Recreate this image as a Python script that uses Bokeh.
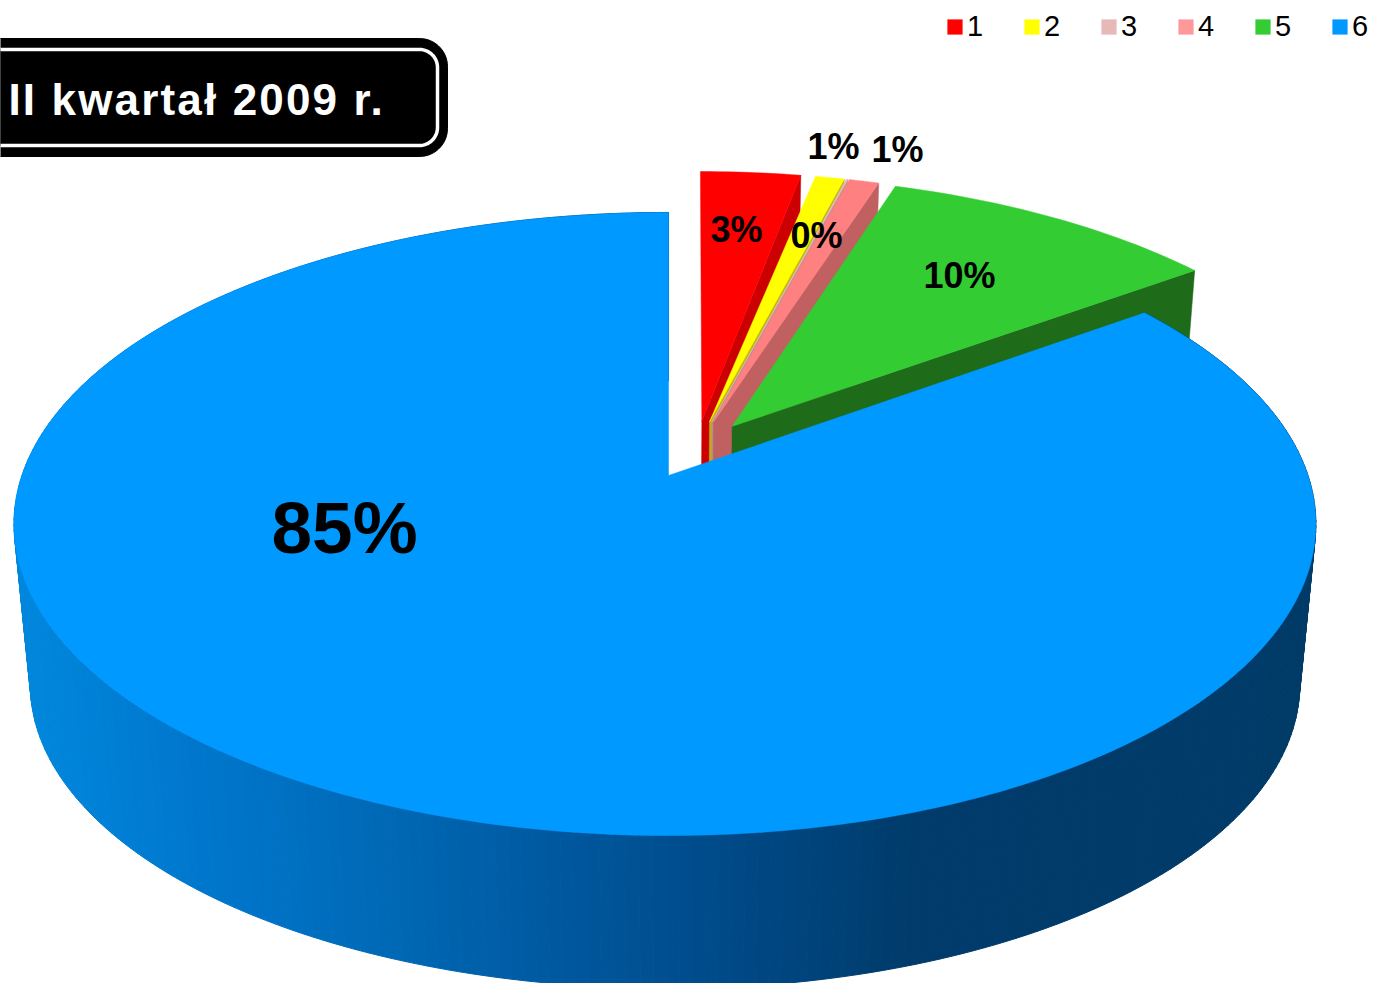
import math
import numpy as np
from bokeh.core.properties import value
from bokeh.embed import file_html
from bokeh.layouts import column
from bokeh.models import ColumnDataSource, Legend, LegendItem, Range1d
from bokeh.plotting import figure
from bokeh.resources import INLINE

categories = ["1", "2", "3", "4", "5", "6"]
shares = [2.95, 1.12, 0.05, 0.88, 10.0, 85.0]
title_text = "II kwartał 2009 r."

top_colors = ["#FF0000", "#FFFF00", "#E6B8B8", "#FF8080", "#33CC33", "#0099FF"]
side_colors = ["#CC0000", "#BDB400", "#B89090", "#C06060", "#1E6B1A", "#0099FF"]
legend_colors = ["#FF0000", "#FFFF00", "#E6B8B8", "#FF9999", "#33CC33", "#0099FF"]
label_pos = [(736, 229), (833, 146), (816, 235), (897, 149), (959, 275), (344, 527)]
label_size = ["36px", "36px", "36px", "36px", "36px", "73px"]
# drawing adjustments (degrees trimmed at wedge start, outward shift of each rim)
start_trim = [0, 0.95, 0, 0, 0, 0.3]
rim_shift = [0.0055, 0.0037, 0.0037, 0.0037, 0.0037, 0]

W, H = 1373, 983
X0, Y0, A, B, K, D, SHRINK = 668, 475, 643, 304, 0.1557, 162, 0.025
EXPLODE, CU, CV = 0.0975, 0.0443, 0.0869
BIG_RIM_SHIFT = -0.0055


def proj(u, v, z=0.0):
    w = 1 + K * v
    s = 1 - SHRINK * z
    return X0 + s * A * u / w, Y0 + D * z - s * B * v / w


def arc(a0, a1):
    return np.radians(np.linspace(a0, a1, max(2, int(math.ceil(a1 - a0)) + 1)))


cum = np.concatenate([[0], np.cumsum(shares)])
cum = cum / cum[-1] * 360

p = figure(width=W, height=H, x_range=Range1d(0, W), y_range=Range1d(H, 0),
           output_backend="svg", toolbar_location=None, min_border=0,
           x_axis_location=None, y_axis_location=None, margin=0)
p.grid.visible = False
p.outline_line_color = None
p.border_fill_color = None

# wedges other than the big one, back to front
for i in range(5):
    a0, a1 = cum[i], cum[i + 1]
    mid = math.radians((a0 + a1) / 2)
    cu, cv = CU + EXPLODE * math.sin(mid), CV + EXPLODE * math.cos(mid)
    end = math.radians(a1)
    ou, ov = cu + math.sin(end) + rim_shift[i], cv + math.cos(end)
    fx = [proj(ou, ov, 0)[0], proj(cu, cv, 0)[0], proj(cu, cv, 1)[0], proj(ou, ov, 1)[0]]
    fy = [proj(ou, ov, 0)[1], proj(cu, cv, 0)[1], proj(cu, cv, 1)[1], proj(ou, ov, 1)[1]]
    p.patch(fx, fy, fill_color=side_colors[i], line_color=side_colors[i], line_width=0.5)
    t = arc(a0 + start_trim[i], a1)
    tx, ty = proj(cu + np.sin(t) + rim_shift[i], cv + np.cos(t))
    p.patch([proj(cu, cv)[0], *tx], [proj(cu, cv)[1], *ty],
            fill_color=top_colors[i], line_color=top_colors[i], line_width=0.5)

# big wedge: wall then top
a0, a1 = cum[5], cum[6]
mid = math.radians((a0 + a1) / 2)
cu, cv = CU + EXPLODE * math.sin(mid), CV + EXPLODE * math.cos(mid)
t = arc(a0 + start_trim[5], a1)
ux, vy = cu + np.sin(t) + BIG_RIM_SHIFT * np.abs(np.sin(t)), cv + np.cos(t)
x_top, y_top = proj(ux, vy, 0)
x_bot, y_bot = proj(ux, vy, 1)
stops_x = [30, 200, 400, 600, 800, 900, 1373]
stops_rgb = [(0, 136, 221), (0, 120, 206), (0, 104, 181), (0, 85, 154), (0, 68, 125), (0, 60, 108), (0, 59, 104)]
xs, ys, cols = [], [], []
for j in range(len(t) - 1):
    xs.append([x_top[j], x_top[j + 1], x_bot[j + 1], x_bot[j]])
    ys.append([y_top[j], y_top[j + 1], y_bot[j + 1], y_bot[j]])
    xm = (x_bot[j] + x_bot[j + 1]) / 2
    c = [int(np.interp(xm, stops_x, [s[k] for s in stops_rgb])) for k in range(3)]
    cols.append("#%02X%02X%02X" % tuple(c))
wall = ColumnDataSource(dict(xs=xs, ys=ys, c=cols))
p.patches("xs", "ys", source=wall, fill_color="c", line_color="c", line_width=1)
p.patch([proj(cu, cv)[0], *x_top], [proj(cu, cv)[1], *y_top],
        fill_color=top_colors[5], line_color=top_colors[5], line_width=0.5)

# percentage labels
for v, (lx, ly), sz in zip(shares, label_pos, label_size):
    p.text([lx], [ly], text=[f"{round(v)}%"], text_align="center", text_baseline="middle",
           text_font=value("Liberation Sans"), text_font_style="bold", text_font_size=sz,
           text_color="#000000")

# legend
items = []
for c, col in zip(categories, legend_colors):
    r = p.quad(left=[float("nan")], right=[float("nan")], top=[float("nan")], bottom=[float("nan")],
               fill_color=col, line_color=None)
    items.append(LegendItem(label=c, renderers=[r]))
legend = Legend(items=items, orientation="horizontal", location=(945, H - 43), margin=0, padding=0,
                spacing=36, glyph_width=19, glyph_height=19, label_standoff=3, label_width=19,
                label_text_font="Liberation Sans", label_text_font_size="29px",
                label_text_color="#000000", border_line_color=None, background_fill_alpha=0)
p.add_layout(legend)


def rounded(x0, y0, x1, y1, r):
    px, py = [], []
    for cx, cy, s in [(x1 - r, y0 + r, -90), (x1 - r, y1 - r, 0), (x0 + r, y1 - r, 90), (x0 + r, y0 + r, 180)]:
        th = np.radians(np.linspace(s, s + 90, 16))
        px += list(cx + r * np.cos(th))
        py += list(cy + r * np.sin(th))
    return px, py


q = figure(width=470, height=170, x_range=Range1d(0, 470), y_range=Range1d(170, 0),
           output_backend="svg", toolbar_location=None, min_border=0,
           x_axis_location=None, y_axis_location=None, margin=(-H, 0, 0, 0),
           styles={"letter-spacing": "2.15px"})
q.grid.visible = False
q.outline_line_color = None
q.border_fill_color = None
q.background_fill_alpha = 0
bx, by = rounded(-40, 38, 447, 156, 28)
q.patch(bx, by, fill_color="#000000", line_color="#000000")
ix, iy = rounded(-40, 49, 437, 145, 18)
q.patch(ix, iy, fill_color="#000000", line_color="#FFFFFF", line_width=3.5)
q.text([8], [99], text=[title_text], text_align="left", text_baseline="alphabetic",
       text_font=value("Liberation Sans"), text_font_style="bold", text_font_size="44px",
       text_color="#FFFFFF")

page = column(p, q, margin=0, spacing=0)
open("out.html", "w").write(file_html(page, INLINE))
